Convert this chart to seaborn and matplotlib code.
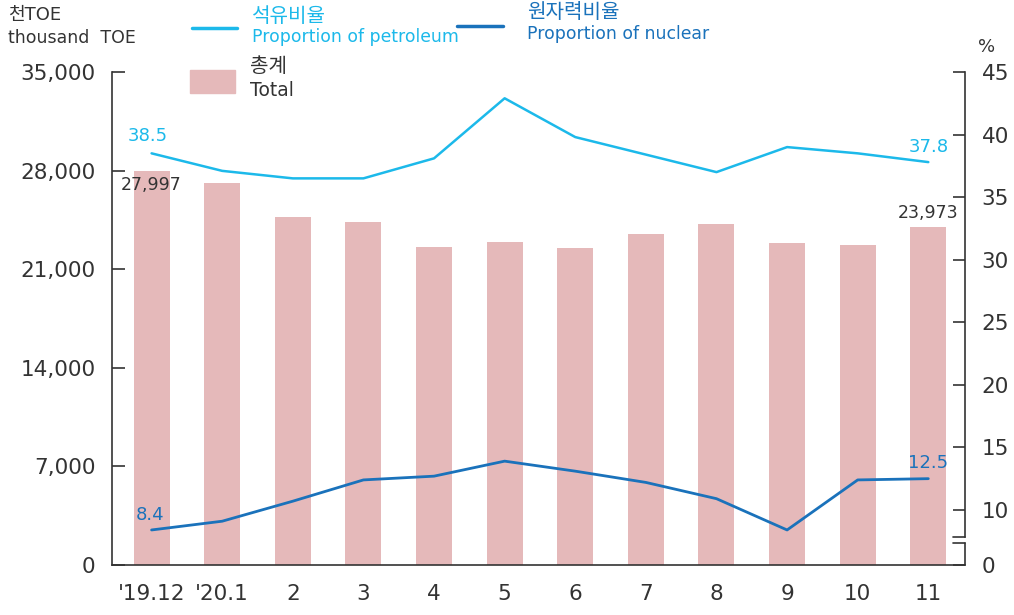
import numpy as np
import pandas as pd
import seaborn as sns
import matplotlib.pyplot as plt
from matplotlib.ticker import FuncFormatter
import matplotlib.transforms as mtransforms

# 데이터
months = ["'19.12", "'20.1", "2", "3", "4", "5", "6", "7", "8", "9", "10", "11"]
total = [27997, 27120, 24700, 24350, 22580, 22930, 22500, 23500, 24210, 22860, 22720, 23973]
petroleum = [38.5, 37.1, 36.5, 36.5, 38.1, 42.9, 39.8, 38.4, 37.0, 39.0, 38.5, 37.8]
nuclear = [8.4, 9.1, 10.7, 12.4, 12.7, 13.9, 13.1, 12.2, 10.9, 8.4, 12.4, 12.5]

df = pd.DataFrame({'month': months, 'total': total,
                   'petroleum': petroleum, 'nuclear': nuclear})
df['pos'] = np.arange(len(df))

c_bar = '#e5b9ba'
c_pet = '#1cb9ea'
c_nuc = '#1a72bb'
c_txt = '#333333'

sns.set_style('white')
plt.rcParams['font.family'] = ['DejaVu Sans', 'Noto Sans CJK KR']

fig = plt.figure(figsize=(10.14, 6.15), dpi=100)
ax = fig.add_axes([0.1105, 0.0813, 0.8412, 0.8016])

sns.barplot(data=df, x='month', y='total', color=c_bar, width=0.51,
            saturation=1, linewidth=0, ax=ax)
ax.set_xlim(-0.56, 11.52)
ax.set_ylim(0, 35000)
ax.set_yticks(np.arange(0, 35001, 7000))
ax.yaxis.set_major_formatter(FuncFormatter(lambda v, p: f'{int(v):,}'))
ax.set_xlabel('')
ax.set_ylabel('')
for s in ['top', 'right']:
    ax.spines[s].set_visible(False)
for s in ['left', 'bottom']:
    ax.spines[s].set_color('#333333')
    ax.spines[s].set_linewidth(1.2)
ax.tick_params(axis='y', direction='in', length=9, width=1.2, color='#333333',
               labelsize=15.5, labelcolor=c_txt, pad=12)
ax.tick_params(axis='x', length=0, labelsize=15.5, labelcolor=c_txt, pad=14)

ax2 = ax.twinx()
sns.lineplot(data=df, x='pos', y='petroleum', color=c_pet, linewidth=1.8, ax=ax2)
sns.lineplot(data=df, x='pos', y='nuclear', color=c_nuc, linewidth=2.0, ax=ax2)
ybot = 5.6
ax2.set_ylim(ybot, 45)
ax2.set_xlim(-0.56, 11.52)
ax2.set_yticks([ybot] + list(range(10, 46, 5)))
ax2.set_yticklabels(['0'] + [str(v) for v in range(10, 46, 5)])
ax2.set_ylabel('')
for s in ['top', 'left', 'bottom']:
    ax2.spines[s].set_visible(False)
ax2.spines['right'].set_color('#333333')
ax2.spines['right'].set_linewidth(1.2)
ax2.spines['right'].set_bounds(7.85, 45)
ax2.tick_params(axis='y', direction='in', length=9, width=1.2, color='#333333',
                labelsize=15.5, labelcolor=c_txt, pad=12)

# 축 끊김 표시
tr = mtransforms.blended_transform_factory(ax2.transAxes, ax2.transData)
ax2.plot([1, 1], [ybot, 7.35], transform=tr, color='#333333', lw=1.2, clip_on=False)
ax2.plot([0.9855, 1], [7.85, 7.85], transform=tr, color='#333333', lw=1.2, clip_on=False)
ax2.plot([0.9855, 1], [7.35, 7.35], transform=tr, color='#333333', lw=1.2, clip_on=False)

# 값 표시
ax.text(0, total[0] - 400, f'{total[0]:,}', ha='center', va='top', fontsize=12.5, color=c_txt)
ax.text(11, total[-1] + 400, f'{total[-1]:,}', ha='center', va='bottom', fontsize=12.5, color=c_txt)
ax2.text(-0.05, petroleum[0] + 0.7, f'{petroleum[0]}', ha='center', va='bottom', fontsize=13, color=c_pet)
ax2.text(11.0, petroleum[-1] + 0.5, f'{petroleum[-1]}', ha='center', va='bottom', fontsize=13, color=c_pet)
ax2.text(-0.02, nuclear[0] + 0.5, f'{nuclear[0]}', ha='center', va='bottom', fontsize=13, color=c_nuc)
ax2.text(11.0, nuclear[-1] + 0.5, f'{nuclear[-1]}', ha='center', va='bottom', fontsize=13, color=c_nuc)

# 단위
fig.text(8 / 1014, 1 - 15 / 615, '천TOE', ha='left', va='center', fontsize=13, color=c_txt)
fig.text(8 / 1014, 1 - 38 / 615, 'thousand  TOE', ha='left', va='center', fontsize=12.5, color=c_txt)
fig.text(987 / 1014, 1 - 47 / 615, '%', ha='center', va='center', fontsize=13, color=c_txt)

# 범례
fig.add_artist(plt.Line2D([192 / 1014, 237 / 1014], [1 - 28 / 615] * 2, color=c_pet, lw=2.5))
fig.text(252 / 1014, 1 - 17 / 615, '석유비율', ha='left', va='center', fontsize=14.5, color=c_pet)
fig.text(252 / 1014, 1 - 37 / 615, 'Proportion of petroleum', ha='left', va='center', fontsize=12.4, color=c_pet)
fig.add_artist(plt.Line2D([457 / 1014, 503 / 1014], [1 - 26 / 615] * 2, color=c_nuc, lw=2.5))
fig.text(527 / 1014, 1 - 12 / 615, '원자력비율', ha='left', va='center', fontsize=14.5, color=c_nuc)
fig.text(527 / 1014, 1 - 34 / 615, 'Proportion of nuclear', ha='left', va='center', fontsize=12.4, color=c_nuc)
fig.add_artist(plt.Rectangle((190 / 1014, 1 - 93 / 615), 45 / 1014, 23 / 615,
                             color=c_bar, transform=fig.transFigure))
fig.text(250 / 1014, 1 - 67 / 615, '총계', ha='left', va='center', fontsize=14.5, color=c_txt)
fig.text(250 / 1014, 1 - 90 / 615, 'Total', ha='left', va='center', fontsize=13.5, color=c_txt)

fig.savefig('out.png', dpi=100)
